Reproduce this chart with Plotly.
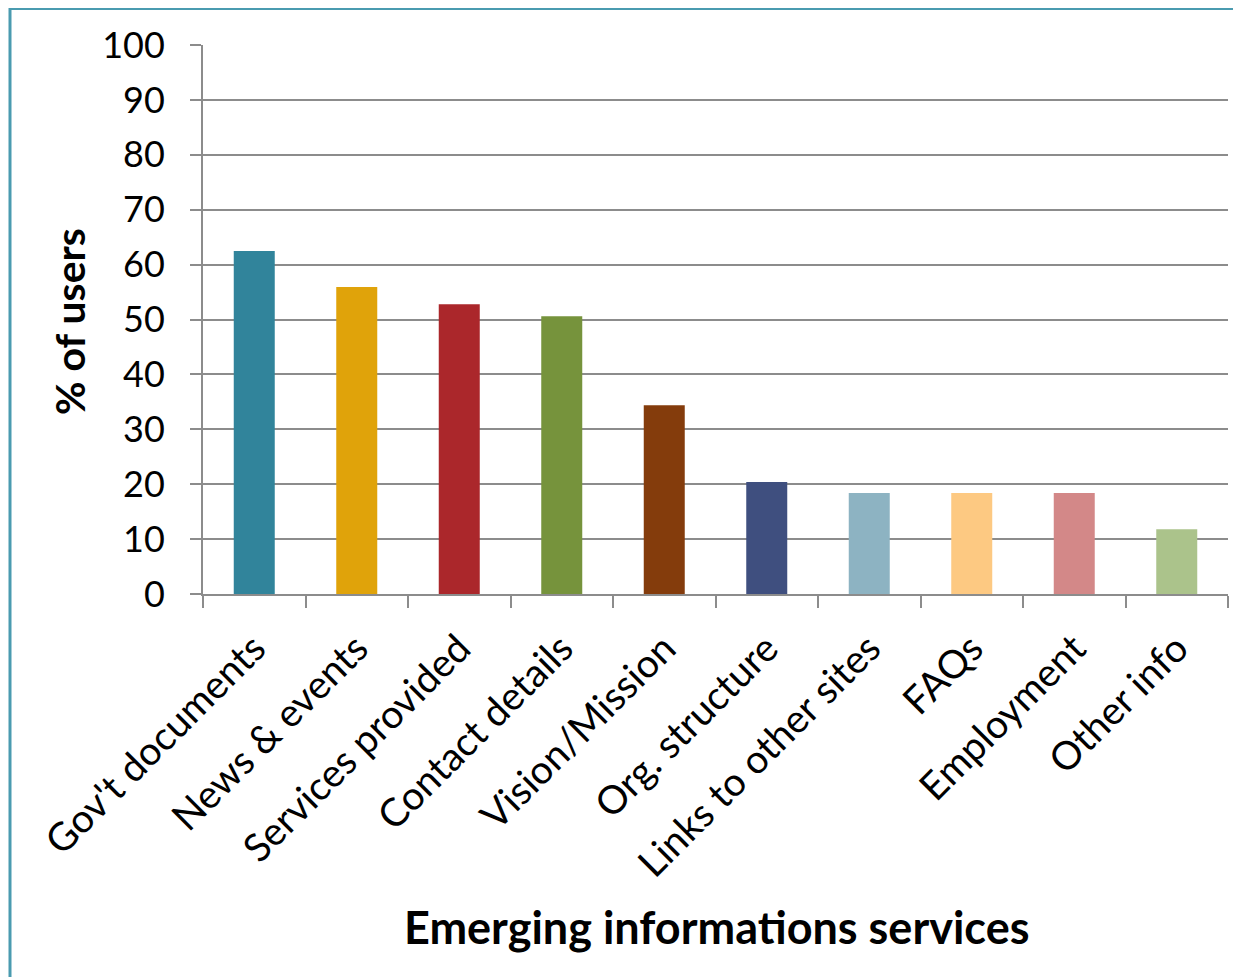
import plotly.graph_objects as go

categories = ["Gov't documents", "News & events", "Services provided", "Contact details",
              "Vision/Mission", "Org. structure", "Links to other sites", "FAQs",
              "Employment", "Other info"]
values = [62.5, 55.9, 52.8, 50.6, 34.4, 20.4, 18.4, 18.4, 18.4, 11.8]
colors = ["#31849b", "#e0a30a", "#ab272b", "#76933c", "#843c0c",
          "#3f4f7f", "#8db3c2", "#fdc982", "#d38888", "#abc38b"]
y_ticks = list(range(0, 101, 10))

FONT = "Lato, 'Open Sans', sans-serif"

# figure is drawn at an 8px body offset in the browser
W, H = 1233, 969
L, R, T, B = 195, 13, 37, 383
PW = W - L - R
PH = H - T - B

fig = go.Figure(go.Bar(x=categories, y=values, marker=dict(color=colors, line=dict(width=0)),
                       width=0.4))

fig.update_layout(
    width=W, height=H,
    margin=dict(l=L, r=R, t=T, b=B, autoexpand=False),
    paper_bgcolor="white", plot_bgcolor="white",
    font=dict(family=FONT, color="black"),
    showlegend=False,
)
fig.update_yaxes(
    range=[0, 100], tickvals=y_ticks, ticktext=[str(v) for v in y_ticks],
    showgrid=True, gridcolor="#8c8c8c", gridwidth=2,
    showline=True, linecolor="#8c8c8c", linewidth=2,
    ticks="outside", ticklen=11, tickcolor="#8c8c8c", tickwidth=2,
    tickfont=dict(size=36, family=FONT), ticklabelstandoff=18,
    zeroline=False, automargin=False,
)
fig.update_xaxes(
    tickangle=-45, tickson="boundaries",
    showline=True, linecolor="#8c8c8c", linewidth=2,
    ticks="outside", ticklen=12, tickcolor="#8c8c8c", tickwidth=2,
    tickfont=dict(size=39, family=FONT), ticklabelstandoff=14,
    automargin=False,
)

# axis titles
fig.add_annotation(text="<b>% of users</b>", xref="paper", yref="paper",
                   x=(61 - L) / PW, y=(H - B - 314) / PH, textangle=-90,
                   showarrow=False, xanchor="center", yanchor="middle",
                   font=dict(size=41, family=FONT, color="black"))
fig.add_annotation(text="<b>Emerging informations services</b>", xref="paper", yref="paper",
                   x=(708 - L) / PW, y=(H - B - 919) / PH,
                   showarrow=False, xanchor="center", yanchor="middle",
                   font=dict(size=45, family=FONT, color="black"))

# outer border (teal frame, cut off at right/bottom)
fig.add_shape(type="rect", xref="paper", yref="paper",
              x0=(2 - L) / PW, x1=1.5, y0=-1.5, y1=(H - B - 0.5) / PH,
              line=dict(color="#4a9bb0", width=3), fillcolor="rgba(0,0,0,0)", layer="below")

fig.write_html("out.html")
